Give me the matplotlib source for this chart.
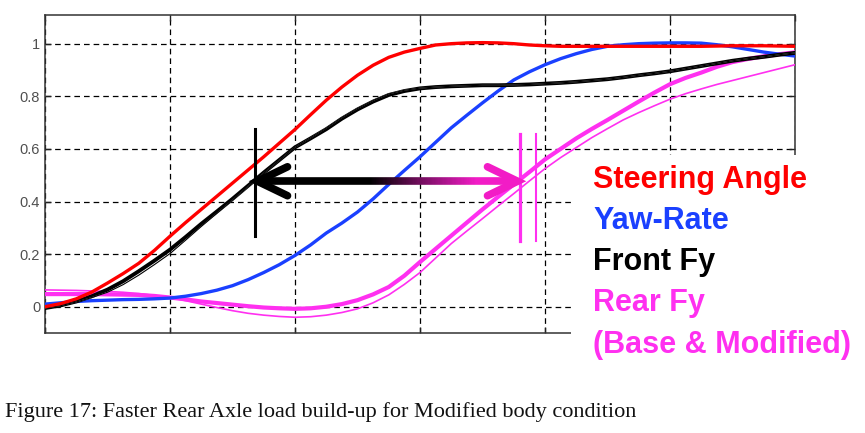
import numpy as np
import matplotlib
matplotlib.use("Agg")
import matplotlib.pyplot as plt
from matplotlib.collections import LineCollection
from matplotlib.patches import Rectangle
from matplotlib.colors import to_rgb

# ---------------- data ----------------
t = [0.0, 0.125, 0.25, 0.375, 0.5, 0.625, 0.75, 0.875, 1.0, 1.125, 1.25, 1.375,
     1.5, 1.625, 1.75, 1.875, 2.0, 2.125, 2.25, 2.375, 2.5, 2.625, 2.75, 2.875,
     3.0, 3.125, 3.25, 3.375, 3.5, 3.625, 3.75, 3.875, 4.0, 4.125, 4.25, 4.375,
     4.5, 4.625, 4.75, 4.875, 5.0, 5.125, 5.25, 5.375, 5.5, 5.625, 5.75, 5.875, 6.0]

steering_angle = [0.0, 0.012, 0.03, 0.056, 0.09, 0.126, 0.165, 0.214, 0.268, 0.32,
                  0.37, 0.42, 0.47, 0.52, 0.57, 0.622, 0.674, 0.73, 0.785, 0.835,
                  0.88, 0.918, 0.948, 0.968, 0.982, 0.995, 1.0, 1.003, 1.004, 1.003,
                  1.0, 0.995, 0.992, 0.99, 0.99, 0.99, 0.99, 0.99, 0.99, 0.99,
                  0.99, 0.99, 0.99, 0.991, 0.992, 0.992, 0.992, 0.991, 0.99]
yaw_rate = [0.01, 0.015, 0.02, 0.023, 0.025, 0.027, 0.028, 0.03, 0.033, 0.04,
            0.05, 0.063, 0.08, 0.103, 0.13, 0.16, 0.195, 0.235, 0.28, 0.318,
            0.36, 0.41, 0.465, 0.518, 0.57, 0.625, 0.68, 0.728, 0.775, 0.82,
            0.862, 0.893, 0.92, 0.943, 0.962, 0.978, 0.99, 0.996, 1.0, 1.002,
            1.003, 1.003, 1.002, 0.996, 0.988, 0.978, 0.968, 0.96, 0.953]
front_fy_base = [-0.005, 0.005, 0.02, 0.04, 0.065, 0.097, 0.135, 0.175, 0.217, 0.265,
                 0.315, 0.362, 0.41, 0.46, 0.51, 0.558, 0.606, 0.64, 0.675, 0.715,
                 0.75, 0.78, 0.805, 0.82, 0.83, 0.835, 0.838, 0.84, 0.842, 0.842,
                 0.843, 0.845, 0.848, 0.851, 0.855, 0.86, 0.865, 0.872, 0.88, 0.887,
                 0.895, 0.905, 0.915, 0.925, 0.935, 0.943, 0.95, 0.958, 0.965]
front_fy_mod = [-0.005, 0.004, 0.018, 0.035, 0.055, 0.084, 0.12, 0.16, 0.202, 0.253,
                0.305, 0.355, 0.405, 0.457, 0.508, 0.557, 0.606, 0.642, 0.679, 0.719,
                0.754, 0.784, 0.809, 0.823, 0.831, 0.835, 0.838, 0.84, 0.842, 0.842,
                0.843, 0.845, 0.848, 0.851, 0.855, 0.86, 0.865, 0.872, 0.88, 0.887,
                0.895, 0.905, 0.915, 0.925, 0.935, 0.943, 0.95, 0.958, 0.965]
rear_fy_mod = [0.048, 0.048, 0.048, 0.048, 0.047, 0.046, 0.045, 0.041, 0.035, 0.028,
               0.02, 0.014, 0.008, 0.002, -0.003, -0.006, -0.008, -0.006, 0.0, 0.01,
               0.025, 0.047, 0.075, 0.118, 0.17, 0.22, 0.27, 0.32, 0.37, 0.418,
               0.465, 0.512, 0.56, 0.6, 0.64, 0.676, 0.71, 0.745, 0.78, 0.814,
               0.846, 0.87, 0.89, 0.912, 0.93, 0.942, 0.952, 0.96, 0.967]
rear_fy_base = [0.064, 0.063, 0.062, 0.06, 0.058, 0.055, 0.05, 0.043, 0.035, 0.023,
                0.01, -0.003, -0.015, -0.025, -0.032, -0.037, -0.04, -0.038, -0.032, -0.022,
                -0.008, 0.015, 0.045, 0.085, 0.13, 0.185, 0.24, 0.288, 0.335, 0.383,
                0.43, 0.478, 0.525, 0.567, 0.605, 0.643, 0.677, 0.71, 0.738, 0.764,
                0.789, 0.81, 0.828, 0.845, 0.86, 0.875, 0.89, 0.905, 0.92]

ytick_vals = [0, 0.2, 0.4, 0.6, 0.8, 1]
ytick_labels = ["0", "0.2", "0.4", "0.6", "0.8", "1"]
xtick_vals = [0, 1, 2, 3, 4, 5, 6]

legend_labels = ["Steering Angle", "Yaw-Rate", "Front Fy", "Rear Fy", "(Base & Modified)"]
caption = "Figure 17: Faster Rear Axle load build-up for Modified body condition"

# annotation values
front_mark_x = 1.68
rear_mark_x = [3.8, 3.93]
arrow_y = 0.477
mark_range = (0.268, 0.674)
rear_mark_range = (0.249, 0.655)

# ---------------- styling ----------------
RED = "#ff0000"
BLUE = "#1a40ff"
BLACK = "#000000"
MAG = "#ff30f0"
ARROW_MAG = "#f21cc6"

W, H = 865, 433
fig = plt.figure(figsize=(W / 100, H / 100), dpi=100)
fig.patch.set_facecolor("white")

ax_l, ax_r, ax_t, ax_b = 45, 795, 15, 333.3
ax = fig.add_axes([ax_l / W, 1 - ax_b / H, (ax_r - ax_l) / W, (ax_b - ax_t) / H])
ax.set_xlim(0, 6)
ax.set_ylim(-0.101, 1.109)

ax.set_xticks(xtick_vals)
ax.set_xticklabels([])
ax.set_yticks(ytick_vals)
ax.set_yticklabels(ytick_labels, fontsize=10.5, color="#505050", family="Liberation Sans")
ax.tick_params(direction="in", length=4, width=1, top=True, right=True, pad=3.5,
               color="#222222")
for s in ax.spines.values():
    s.set_color("#333333")
    s.set_linewidth(1.1)
ax.grid(True, color="black", linestyle=(0, (4.5, 3.2)), linewidth=0.9)
ax.set_axisbelow(True)

# curves
ax.plot(t, rear_fy_base, color=MAG, lw=1.2, zorder=3)
ax.plot(t, rear_fy_mod, color=MAG, lw=3.0, zorder=3)
ax.plot(t, yaw_rate, color=BLUE, lw=2.4, zorder=4)
ax.plot(t, front_fy_base, color=BLACK, lw=2.8, zorder=4)
ax.plot(t, front_fy_mod, color="white", lw=0.6, zorder=4.1, alpha=0.7)
ax.plot(t, front_fy_mod, color=BLACK, lw=0.8, zorder=4.2)
ax.plot(t, steering_angle, color=RED, lw=2.4, zorder=5)

# vertical markers
ax.plot([front_mark_x, front_mark_x], mark_range, color=BLACK, lw=2.2, zorder=6)
ax.plot([rear_mark_x[0]] * 2, rear_mark_range, color=MAG, lw=2.3, zorder=6)
ax.plot([rear_mark_x[1]] * 2, rear_mark_range, color=MAG, lw=1.5, zorder=6)

# gradient arrow shaft
x0, x1 = front_mark_x + 0.05, rear_mark_x[0] - 0.07
g0, g1 = 2.6, 3.45
xs = np.linspace(x0, x1, 200)
segs = [[(xs[i], arrow_y), (xs[i + 1], arrow_y)] for i in range(len(xs) - 1)]
c0 = np.array(to_rgb(BLACK))
c1 = np.array(to_rgb(ARROW_MAG))
cols = []
for i in range(len(xs) - 1):
    xm = 0.5 * (xs[i] + xs[i + 1])
    f = np.clip((xm - g0) / (g1 - g0), 0, 1)
    cols.append(tuple(c0 * (1 - f) + c1 * f))
lc = LineCollection(segs, colors=cols, linewidths=5.5, capstyle="butt", zorder=7)
ax.add_collection(lc)

# arrow heads (chevrons)
dx, dy = 0.24, 0.055
lt = front_mark_x + 0.02
ax.plot([lt + dx, lt, lt + dx], [arrow_y + dy, arrow_y, arrow_y - dy], color=BLACK,
        lw=5.5, solid_capstyle="round", solid_joinstyle="miter", zorder=8)
rt = rear_mark_x[0] - 0.02
ax.plot([rt - dx, rt, rt - dx], [arrow_y + dy, arrow_y, arrow_y - dy], color=ARROW_MAG,
        lw=5.5, solid_capstyle="round", solid_joinstyle="miter", zorder=8)

# white area behind legend text (covers lower-right of the frame)
cover = Rectangle((571 / W, 0.0), 1 - 571 / W, 1 - 154.5 / H, transform=fig.transFigure,
                  facecolor="white", edgecolor="none", zorder=10)
fig.patches.append(cover)

# legend text
leg_colors = [RED, BLUE, BLACK, MAG, MAG]
leg_base = [188, 229, 270, 311.5, 352.5]
for lab, col, yb in zip(legend_labels, leg_colors, leg_base):
    fig.text(593 / W, 1 - yb / H, lab, color=col, fontsize=22, fontweight="bold",
             family="Liberation Sans", va="baseline", ha="left", zorder=11)

# caption
fig.text(5 / W, 1 - 416.5 / H, caption, family="Liberation Serif", fontsize=16,
         color="#111111", va="baseline", ha="left", zorder=11)

fig.savefig("out.png", dpi=100, facecolor="white")
